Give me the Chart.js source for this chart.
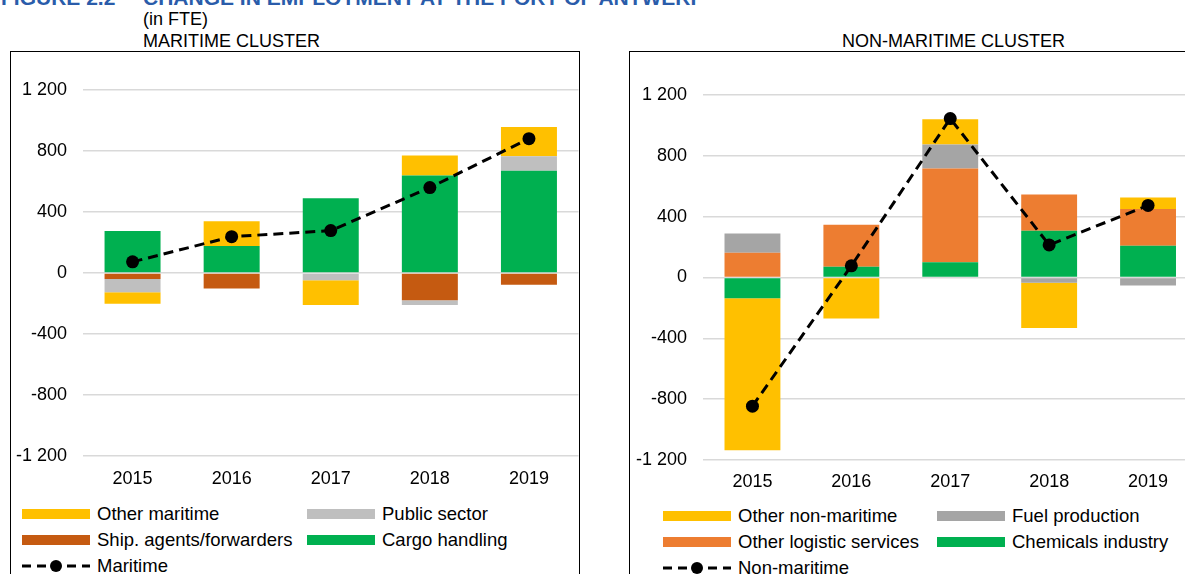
<!DOCTYPE html>
<html><head><meta charset="utf-8">
<script src="https://cdn.jsdelivr.net/npm/chart.js@4.4.0/dist/chart.umd.min.js"></script>
<style>
html,body{margin:0;padding:0;width:1185px;height:574px;overflow:hidden;background:#fff;font-family:"Liberation Sans",Arial,sans-serif;color:#000;}
.abs{position:absolute;white-space:nowrap;}
.box{position:absolute;border:1px solid #000;height:600px;box-sizing:border-box;}
.fig{font-weight:bold;font-size:21px;line-height:20px;color:#2A5CAA;}
.t18{font-size:18px;line-height:20px;}
.lg{font-size:18.5px;line-height:20px;}
.sw{position:absolute;width:68px;height:10px;}
canvas{position:absolute;}
</style>
</head><body>
<div class="abs fig" style="left:1px;top:-12.5px;">FIGURE 2.2</div>
<div class="abs fig" style="left:143px;top:-12.5px;">CHANGE IN EMPLOYMENT AT THE PORT OF ANTWERP</div>
<div class="abs t18" style="left:143px;top:9px;">(in FTE)</div>
<div class="abs t18" style="left:143px;top:31px;">MARITIME CLUSTER</div>
<div class="abs t18" style="left:842px;top:31px;">NON-MARITIME CLUSTER</div>
<div class="box" style="left:10px;top:51px;width:570px;"></div>
<div class="box" style="left:629px;top:51px;width:600px;"></div>
<canvas id="c1" width="574" height="441" style="left:11px;top:52px;"></canvas>
<canvas id="c2" width="574" height="445" style="left:630px;top:52px;"></canvas>
<div id="leg"></div>
<script>
const FONT = '"Liberation Sans", Arial, sans-serif';
const years = ['2015', '2016', '2017', '2018', '2019'];
const yTicks = [-1200, -800, -400, 0, 400, 800, 1200];
const yTickLabels = ['-1 200', '-800', '-400', '0', '400', '800', '1 200'];

// Maritime cluster
const cargoHandling = [275, 177, 490, 640, 671];
const shipAgents = [-40, -101, -5, -179, -77];
const publicSector = [-86, 0, -43, -31, 94];
const otherMaritime = [-75, 162, -162, 131, 192];
const maritimeTotal = [73, 238, 278, 560, 881];

// Non-maritime cluster
const chemicalsIndustry = [-136, 70, 101, 308, 209];
const otherLogistic = [163, 277, 615, 237, 242];
const fuelProduction = [127, 0, 158, -35, -53];
const otherNonMaritime = [-1000, -270, 167, -297, 75];
const nonMaritimeTotal = [-846, 77, 1045, 214, 474];

const COL = {yellow:'#FFC000', lgray:'#BFBFBF', brown:'#C55A11', green:'#00B050', orange:'#ED7D31', dgray:'#A5A5A5'};

function build(id, bars, line, padTop, yW, tickPad, xH){
  return new Chart(document.getElementById(id), {
    type:'bar',
    data:{labels:years, datasets:[
      ...bars.map(b=>({type:'bar',label:b.label,data:b.data,backgroundColor:b.color,borderWidth:0,stack:'s',order:1,barPercentage:0.565,categoryPercentage:1})),
      {type:'line',label:line.label,data:line.data,borderColor:'#000',backgroundColor:'#000',borderWidth:3,borderDash:[10,6],
       pointRadius:6.5,pointBackgroundColor:'#000',pointBorderWidth:0,tension:0,order:0,stack:'line'}
    ]},
    options:{responsive:false,animation:false,
      layout:{padding:{top:padTop,left:0,right:0,bottom:0}},
      plugins:{legend:{display:false},tooltip:{enabled:false}},
      scales:{
        x:{stacked:true,grid:{display:false,drawTicks:false},border:{display:false},
           ticks:{padding:tickPad,color:'#000',font:{family:FONT,size:18}},
           afterFit(s){s.height=xH;}},
        y:{stacked:true,min:-1200,max:1200,
           afterBuildTicks(s){s.ticks=yTicks.map(v=>({value:v}));},
           ticks:{padding:16,color:'#000',font:{family:FONT,size:18},callback:(v)=>yTickLabels[yTicks.indexOf(v)]},
           grid:{color:'#D9D9D9',lineWidth:1.5,drawTicks:false,tickLength:0},border:{display:false},
           afterFit(s){s.width=yW;}}
      }
    }
  });
}

const leftBars = [
  {label:'Cargo handling',data:cargoHandling,color:COL.green},
  {label:'Ship. agents/forwarders',data:shipAgents,color:COL.brown},
  {label:'Public sector',data:publicSector,color:COL.lgray},
  {label:'Other maritime',data:otherMaritime,color:COL.yellow}
];
const rightBars = [
  {label:'Chemicals industry',data:chemicalsIndustry,color:COL.green},
  {label:'Other logistic services',data:otherLogistic,color:COL.orange},
  {label:'Fuel production',data:fuelProduction,color:COL.dgray},
  {label:'Other non-maritime',data:otherNonMaritime,color:COL.yellow}
];
build('c1', leftBars, {label:'Maritime',data:maritimeTotal}, 38, 72, 12, 37);
build('c2', rightBars, {label:'Non-maritime',data:nonMaritimeTotal}, 43, 73, 11, 37);

// Legends (HTML) built from the dataset definitions
const leg = document.getElementById('leg');
function legend(bars, lineLabel, x1, x2, rows){
  const order = [bars[3], bars[2], bars[1], bars[0]];
  const pos = [[x1,rows[0]],[x2,rows[0]],[x1,rows[1]],[x2,rows[1]]];
  order.forEach((b,i)=>{
    const [x,cy] = pos[i];
    leg.insertAdjacentHTML('beforeend',
      `<div class="sw" style="left:${x}px;top:${cy-5}px;background:${b.color}"></div>`+
      `<div class="abs lg" style="left:${x+75}px;top:${cy-10}px;">${b.label}</div>`);
  });
  const cy = rows[2];
  leg.insertAdjacentHTML('beforeend',
    `<svg class="abs" style="left:${x1}px;top:${cy-7}px" width="68" height="14"><line x1="0" y1="7" x2="68" y2="7" stroke="#000" stroke-width="3" stroke-dasharray="9,6"/><circle cx="34" cy="7" r="6" fill="#000"/></svg>`+
    `<div class="abs lg" style="left:${x1+75}px;top:${cy-10}px;">${lineLabel}</div>`);
}
legend(leftBars, 'Maritime', 22, 307, [514, 540, 566]);
legend(rightBars, 'Non-maritime', 663, 937, [516, 542, 568]);
</script>
</body></html>
